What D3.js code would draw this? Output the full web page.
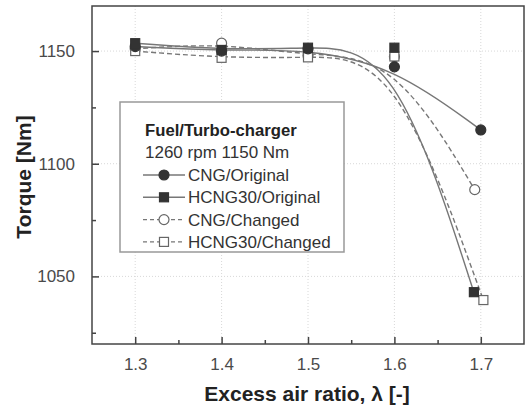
<!DOCTYPE html>
<html>
<head>
<meta charset="utf-8">
<script src="https://cdn.jsdelivr.net/npm/d3@7"></script>
<style>
  body { margin: 0; background: #fff; }
  svg { font-family: "Liberation Sans", Arial, sans-serif; }
</style>
</head>
<body>
<svg></svg>
<script>
var width = 527;
var height = 410;

// excess air ratio
var lambdaOrig = [1.3, 1.4, 1.5, 1.6, 1.7];
var lambdaHcngEnd = [1.3, 1.4, 1.5, 1.6, 1.692];
var lambdaCngChg = [1.3, 1.4, 1.5, 1.6, 1.693];
var lambdaHcngChg = [1.3, 1.4, 1.5, 1.6, 1.703];

// torque [Nm]
var cngOriginal = [1152, 1150, 1151, 1143, 1115];
var hcngOriginal = [1153.5, 1150.5, 1151.5, 1151.5, 1043];
var cngChanged = [1151, 1153.5, 1148, 1147.5, 1088.5];
var hcngChanged = [1150, 1147, 1147.2, 1147.6, 1039.5];

var xTicks = [1.3, 1.4, 1.5, 1.6, 1.7];
var yTicks = [1050, 1100, 1150];

var series = [
  { name: "CNG/Original", x: lambdaOrig, y: cngOriginal, dashed: false, shape: "circle", filled: true },
  { name: "HCNG30/Original", x: lambdaHcngEnd, y: hcngOriginal, dashed: false, shape: "square", filled: true },
  { name: "CNG/Changed", x: lambdaCngChg, y: cngChanged, dashed: true, shape: "circle", filled: false },
  { name: "HCNG30/Changed", x: lambdaHcngChg, y: hcngChanged, dashed: true, shape: "square", filled: false }
];

var svg = d3.select("svg").attr("width", width).attr("height", height);

var plotLeft = 92, plotRight = 524, plotTop = 6, plotBottom = 344;

var x = d3.scaleLinear().domain([1.25, 1.75]).range([plotLeft, plotRight]);
var y = d3.scaleLinear().domain([1020, 1170]).range([plotBottom, plotTop]);

// grid
svg.append("g").selectAll("line").data(xTicks).join("line")
  .attr("x1", d => x(d)).attr("x2", d => x(d))
  .attr("y1", plotTop).attr("y2", plotBottom)
  .attr("stroke", "#d8d8d8").attr("stroke-width", 1).attr("stroke-dasharray", "1,2");
svg.append("g").selectAll("line").data(yTicks).join("line")
  .attr("x1", plotLeft).attr("x2", plotRight)
  .attr("y1", d => y(d)).attr("y2", d => y(d))
  .attr("stroke", "#d8d8d8").attr("stroke-width", 1).attr("stroke-dasharray", "1,2");

// axes, ticks inside
var xAxis = d3.axisBottom(x).tickValues(xTicks).tickFormat(d3.format(".1f")).tickSize(-7).tickPadding(14);
var xMinor = d3.axisBottom(x).tickValues([1.35, 1.45, 1.55, 1.65]).tickFormat("").tickSize(-4);
var yAxis = d3.axisLeft(y).tickValues(yTicks).tickFormat(d3.format("d")).tickSize(-7).tickPadding(17);
var yMinor = d3.axisLeft(y).tickValues([1025, 1075, 1125]).tickFormat("").tickSize(-4);

svg.append("g").attr("transform", "translate(0," + plotBottom + ")").call(xAxis);
svg.append("g").attr("transform", "translate(0," + plotBottom + ")").call(xMinor);
svg.append("g").attr("transform", "translate(" + plotLeft + ",0)").call(yAxis);
svg.append("g").attr("transform", "translate(" + plotLeft + ",0)").call(yMinor);

svg.selectAll(".domain").remove();
svg.selectAll(".tick line").attr("stroke", "#444").attr("stroke-width", 1.5);
svg.selectAll(".tick text").attr("font-size", 17).attr("fill", "#4a4a4a")
  .attr("font-family", "Liberation Sans, Arial, sans-serif");

// frame
svg.append("rect").attr("x", plotLeft).attr("y", plotTop)
  .attr("width", plotRight - plotLeft).attr("height", plotBottom - plotTop)
  .attr("fill", "none").attr("stroke", "#444").attr("stroke-width", 1.5);

// curves
var line = d3.line().curve(d3.curveBasis);
series.forEach(function(s) {
  var pts = s.x.map((v, i) => [x(v), y(s.y[i])]);
  svg.append("path").attr("d", line(pts))
    .attr("fill", "none").attr("stroke", "#777").attr("stroke-width", 1.4)
    .attr("stroke-dasharray", s.dashed ? "5,3" : null);
});

function marker(g, s, cx, cy) {
  var fill = s.filled ? "#333" : "#fff";
  var stroke = s.filled ? "#333" : "#666";
  if (s.shape === "circle") {
    g.append("circle").attr("cx", cx).attr("cy", cy).attr("r", 5)
      .attr("fill", fill).attr("stroke", stroke).attr("stroke-width", 1.2);
  } else {
    g.append("rect").attr("x", cx - 4.5).attr("y", cy - 4.5).attr("width", 9).attr("height", 9)
      .attr("fill", fill).attr("stroke", stroke).attr("stroke-width", 1.2);
  }
}

// markers: open ones first, filled on top
[series[2], series[3], series[0], series[1]].forEach(function(s) {
  var g = svg.append("g");
  s.x.forEach(function(v, i) { marker(g, s, x(v), y(s.y[i])); });
});

// legend
var lg = svg.append("g");
lg.append("rect").attr("x", 120).attr("y", 102).attr("width", 224).attr("height", 150)
  .attr("fill", "#fff").attr("stroke", "#999").attr("stroke-width", 1.5);
lg.append("text").attr("x", 145).attr("y", 136).attr("font-size", 16.7).attr("font-weight", "bold")
  .attr("fill", "#222").text("Fuel/Turbo-charger");
lg.append("text").attr("x", 145).attr("y", 158).attr("font-size", 17)
  .attr("fill", "#333").text("1260 rpm 1150 Nm");
series.forEach(function(s, i) {
  var cy = 175 + i * 22.3;
  lg.append("line").attr("x1", 143).attr("x2", 185).attr("y1", cy).attr("y2", cy)
    .attr("stroke", "#777").attr("stroke-width", 1.4)
    .attr("stroke-dasharray", s.dashed ? "4,3" : null);
  marker(lg, s, 164, cy);
  lg.append("text").attr("x", 188).attr("y", cy + 6).attr("font-size", 17)
    .attr("fill", "#333").text(s.name);
});

// axis titles
svg.append("text").attr("x", 307).attr("y", 401).attr("text-anchor", "middle")
  .attr("font-size", 21).attr("font-weight", "bold").attr("fill", "#222")
  .text("Excess air ratio, λ [-]");
svg.append("text").attr("transform", "translate(31,177) rotate(-90)").attr("text-anchor", "middle")
  .attr("font-size", 21).attr("font-weight", "bold").attr("fill", "#222")
  .text("Torque [Nm]");
</script>
</body>
</html>
